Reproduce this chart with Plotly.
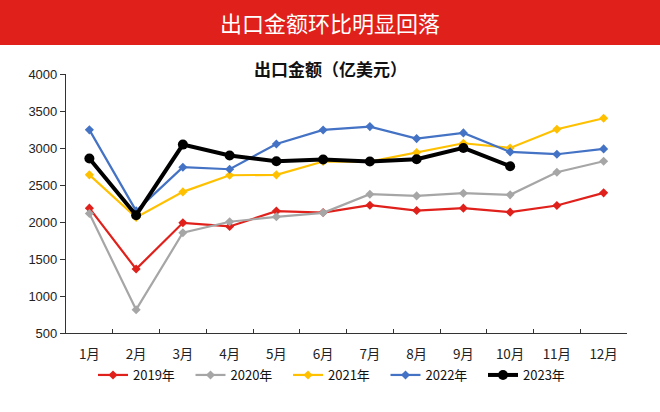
import plotly.graph_objects as go

months = ["1月", "2月", "3月", "4月", "5月", "6月", "7月", "8月", "9月", "10月", "11月", "12月"]
s2019 = [2187, 1364, 1989, 1940, 2147, 2128, 2227, 2155, 2187, 2133, 2223, 2394]
s2020 = [2115, 815, 1854, 2003, 2070, 2124, 2376, 2353, 2389, 2367, 2673, 2821]
s2021 = [2637, 2061, 2407, 2632, 2637, 2817, 2817, 2938, 3064, 3001, 3253, 3402]
s2022 = [3245, 2150, 2740, 2713, 3055, 3244, 3289, 3127, 3204, 2947, 2916, 2988]
s2023 = [2857, 2092, 3046, 2898, 2821, 2844, 2817, 2848, 3001, 2754]

series = [
    ("2019年", s2019, "#E0201B"),
    ("2020年", s2020, "#A6A6A6"),
    ("2021年", s2021, "#FFC000"),
    ("2022年", s2022, "#4472C4"),
]

fig = go.Figure()
for name, vals, col in series:
    fig.add_trace(go.Scatter(
        x=months[:len(vals)], y=vals, name=name, mode="lines+markers",
        line=dict(color=col, width=2.2),
        marker=dict(symbol="diamond", size=7, color=col),
    ))
fig.add_trace(go.Scatter(
    x=months[:len(s2023)], y=s2023, name="2023年", mode="lines+markers",
    line=dict(color="#000000", width=4),
    marker=dict(symbol="circle", size=10, color="#000000"),
))

L, R, T, B = 66, 33, 74, 79
W, H = 660, 412
pw = W - L - R
ph = H - T - B

def px(x):
    return (x - L) / pw

def py(y):
    return (H - B - y) / ph

font = "Noto Sans CJK SC, Liberation Sans, sans-serif"

fig.update_layout(
    width=W, height=H,
    margin=dict(l=L, r=R, t=T, b=B),
    paper_bgcolor="white", plot_bgcolor="white",
    font=dict(family=font, color="#222", size=12),
    showlegend=True,
    legend=dict(
        orientation="h", x=px(337), xanchor="center", y=py(375), yanchor="middle",
        font=dict(size=13, family=font, color="#111"),
        itemwidth=30, entrywidth=52.5, entrywidthmode="pixels",
        bgcolor="rgba(0,0,0,0)",
    ),
    shapes=[dict(
        type="rect", xref="paper", yref="paper",
        x0=px(0), x1=px(W), y0=py(45), y1=py(0),
        fillcolor="#E0201B", line=dict(width=0), layer="below",
    )],
    annotations=[
        dict(text="出口金额环比明显回落", xref="paper", yref="paper",
             x=px(330), y=py(22), xanchor="center", yanchor="middle",
             showarrow=False, font=dict(size=22, color="white", family=font)),
        dict(text="<b>出口金额（亿美元）</b>", xref="paper", yref="paper",
             x=px(330), y=py(68), xanchor="center", yanchor="middle",
             showarrow=False, font=dict(size=17, color="#111", family=font)),
    ],
)

fig.update_xaxes(
    type="category", categoryorder="array", categoryarray=months,
    range=[-0.5, 11.5],
    showline=True, linecolor="#333", linewidth=1.2,
    ticks="inside", ticklen=4, tickcolor="#333", tickson="boundaries",
    ticklabelstandoff=9,
    showgrid=False, zeroline=False,
    tickfont=dict(size=13.5, family=font, color="#222"),
)
fig.update_yaxes(
    range=[500, 4000], dtick=500, tick0=500,
    showline=True, linecolor="#333", linewidth=1.2,
    ticks="outside", ticklen=5, tickcolor="#333",
    showgrid=False, zeroline=False,
    tickfont=dict(size=13, family="Liberation Sans, Arial, sans-serif", color="#222"),
)

fig.write_html("out.html", config={"displayModeBar": False},
               post_script="document.body.style.margin='0px';")
